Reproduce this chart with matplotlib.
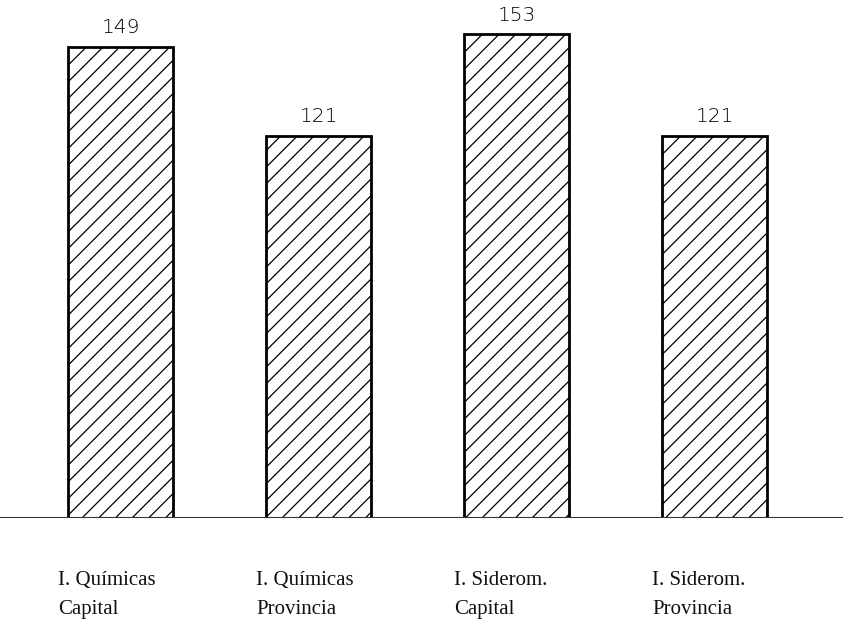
import matplotlib
matplotlib.use("Agg")
import matplotlib.pyplot as plt
import matplotlib.transforms as mtransforms

categories = ["I. Químicas\nCapital", "I. Químicas\nProvincia", "I. Siderom.\nCapital", "I. Siderom.\nProvincia"]
values = [149, 121, 153, 121]
value_labels = ["149", "121", "153", "121"]

plt.rcParams['hatch.linewidth'] = 0.9
fig = plt.figure(figsize=(8.43, 6.25), dpi=100)
ax = fig.add_axes([0, 0.1712, 1, 0.8288])

x = list(range(len(values)))
width = 0.53
ax.bar(x, values, width=width, facecolor="white", edgecolor="black",
       linewidth=2, hatch="//", zorder=2)
ax.set_xlim(-0.609, 3.649)
ax.set_ylim(0, 163.9)
ax.axhline(0, color="#333333", linewidth=1.5, zorder=3)
for s in ax.spines.values():
    s.set_visible(False)
ax.set_xticks([])
ax.set_yticks([])

for xi, v, lab in zip(x, values, value_labels):
    ax.annotate(lab, (xi, v), xytext=(0, 7), textcoords="offset points",
                ha="center", va="bottom", fontsize=14.5, family="DejaVu Sans",
                fontweight="light", color="black")

trans = mtransforms.blended_transform_factory(ax.transData, fig.transFigure)
for xi, cat in zip(x, categories):
    ax.text(xi - width / 2 - 0.05, (625 - 595) / 625, cat, transform=trans,
            ha="left", va="center", fontsize=15, family="Liberation Serif",
            linespacing=1.75, color="#111111")

fig.savefig("out.png", dpi=100)
